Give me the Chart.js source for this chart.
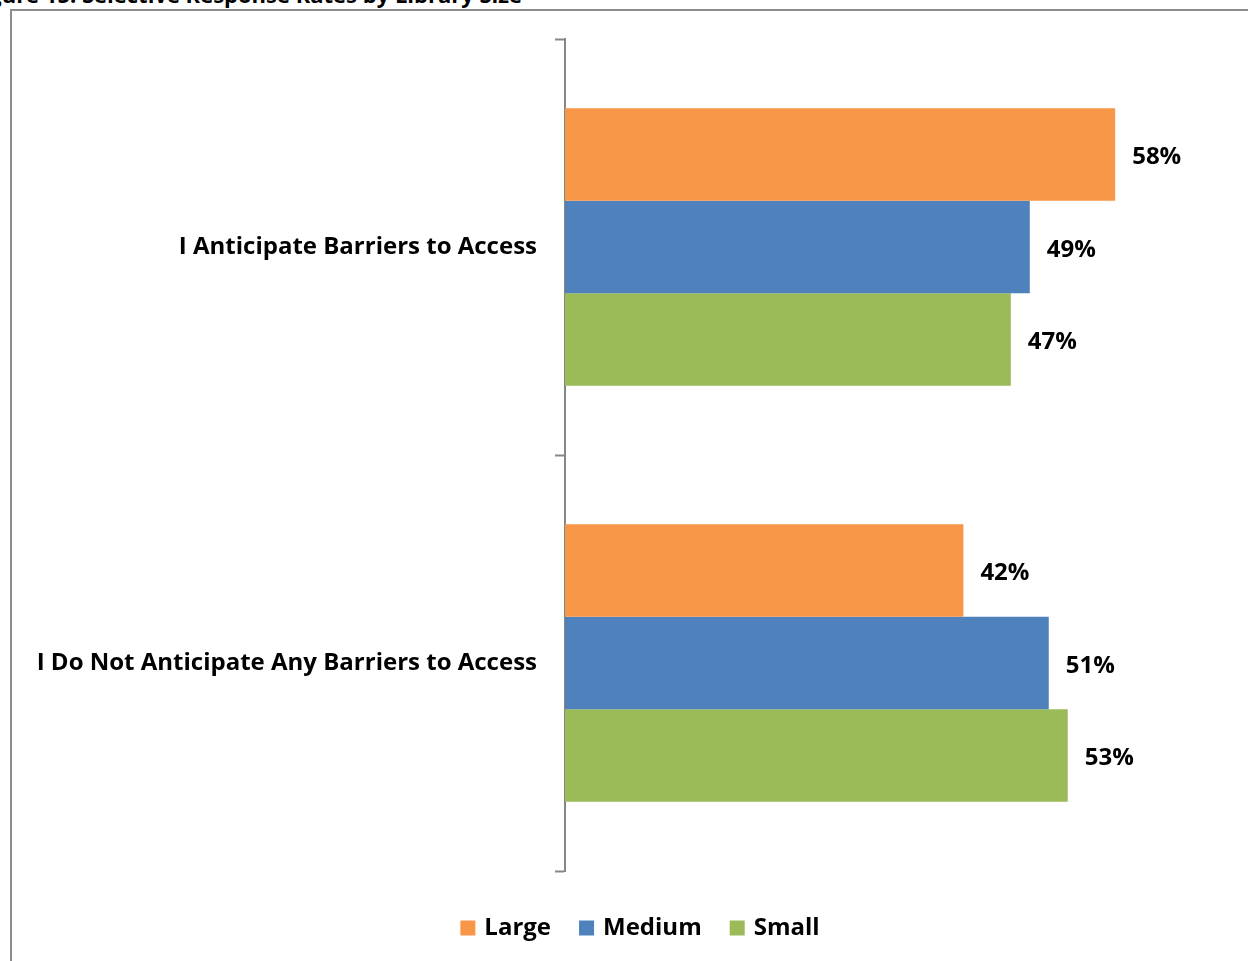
<!DOCTYPE html>
<html>
<head>
<meta charset="utf-8">
<script src="https://cdn.jsdelivr.net/npm/chart.js@4/dist/chart.umd.min.js"></script>
<style>
  html, body { margin: 0; padding: 0; background: #fff; overflow: hidden; }
  body { width: 1248px; height: 961px; position: relative; font-family: "Open Sans", sans-serif; }
  #caption {
    position: absolute; right: 726px; top: -21px; white-space: nowrap; line-height: 30px;
    font: bold 22px "Open Sans", sans-serif; color: #000;
  }
  #frame {
    position: absolute; left: 10px; top: 9px; width: 1400px; height: 1100px;
    border: 2px solid #8c8c8c; box-sizing: border-box; background: transparent;
  }
  #wrap { position: absolute; left: 0; top: 0; width: 1248px; height: 961px; }
</style>
</head>
<body>
<div id="caption">Figure 15: Selective Response Rates by Library Size</div>
<div id="frame"></div>
<div id="wrap"><canvas id="chart"></canvas></div>
<script>
// Response categories and library-size series (percent of respondents)
const categories = ['I Anticipate Barriers to Access', 'I Do Not Anticipate Any Barriers to Access'];
const seriesNames = ['Large', 'Medium', 'Small'];
const largeValues = [58, 42];
const mediumValues = [49, 51];
const smallValues = [47, 53];
const seriesColors = ['#F79646', '#4F81BD', '#9BBB59'];

const FONT_FAMILY = '"Open Sans", sans-serif';
const labelFont = { family: FONT_FAMILY, size: 24, weight: 'bold' };
const fontCss = 'bold 24px ' + FONT_FAMILY;

// Writes each bar's value just past its end
const valueLabels = {
  id: 'valueLabels',
  afterDatasetsDraw(chart) {
    const ctx = chart.ctx;
    ctx.save();
    ctx.font = fontCss;
    ctx.fillStyle = '#000';
    ctx.textAlign = 'left';
    ctx.textBaseline = 'middle';
    chart.data.datasets.forEach((ds, i) => {
      chart.getDatasetMeta(i).data.forEach((bar, j) => {
        ctx.fillText(ds.data[j] + '%', bar.x + 17, bar.y + 3);
      });
    });
    ctx.restore();
  }
};

// Centered row of square swatches with series names under the plot
const seriesKey = {
  id: 'seriesKey',
  afterDraw(chart) {
    const ctx = chart.ctx;
    const box = 15, gapText = 9, gapItem = 28;
    ctx.save();
    ctx.font = fontCss;
    ctx.textBaseline = 'middle';
    ctx.textAlign = 'left';
    const items = chart.data.datasets.map(ds => ({
      text: ds.label, color: ds.backgroundColor, w: ctx.measureText(ds.label).width
    }));
    const total = items.reduce((s, it) => s + box + gapText + it.w, 0) + gapItem * (items.length - 1);
    const cx = chart.width / 2 + 16;
    const cy = chart.chartArea.bottom + 57;
    let x = cx - total / 2;
    items.forEach(it => {
      ctx.fillStyle = it.color;
      ctx.fillRect(x, cy - box / 2, box, box);
      x += box + gapText;
      ctx.fillStyle = '#000';
      ctx.fillText(it.text, x, cy);
      x += it.w + gapItem;
    });
    ctx.restore();
  }
};

new Chart(document.getElementById('chart'), {
  type: 'bar',
  data: {
    labels: categories,
    datasets: [
      { label: seriesNames[0], data: largeValues, backgroundColor: seriesColors[0] },
      { label: seriesNames[1], data: mediumValues, backgroundColor: seriesColors[1] },
      { label: seriesNames[2], data: smallValues, backgroundColor: seriesColors[2] }
    ]
  },
  options: {
    indexAxis: 'y',
    responsive: true,
    maintainAspectRatio: false,
    animation: false,
    layout: { padding: { top: 39, right: 19, bottom: 90, left: 0 } },
    datasets: { bar: { categoryPercentage: 0.667, barPercentage: 1.0, borderWidth: 0 } },
    scales: {
      x: { display: false, min: 0, max: 70 },
      y: {
        afterFit(scale) { scale.width = 565; },
        border: { display: true, color: '#868686', width: 2 },
        grid: { display: true, drawOnChartArea: false, drawTicks: true, tickLength: 10, tickWidth: 2, tickColor: '#868686', offset: true },
        ticks: { color: '#000', font: labelFont, padding: 18 }
      }
    },
    plugins: {
      legend: { display: false },
      tooltip: { enabled: false }
    }
  },
  plugins: [valueLabels, seriesKey]
});
</script>
</body>
</html>
